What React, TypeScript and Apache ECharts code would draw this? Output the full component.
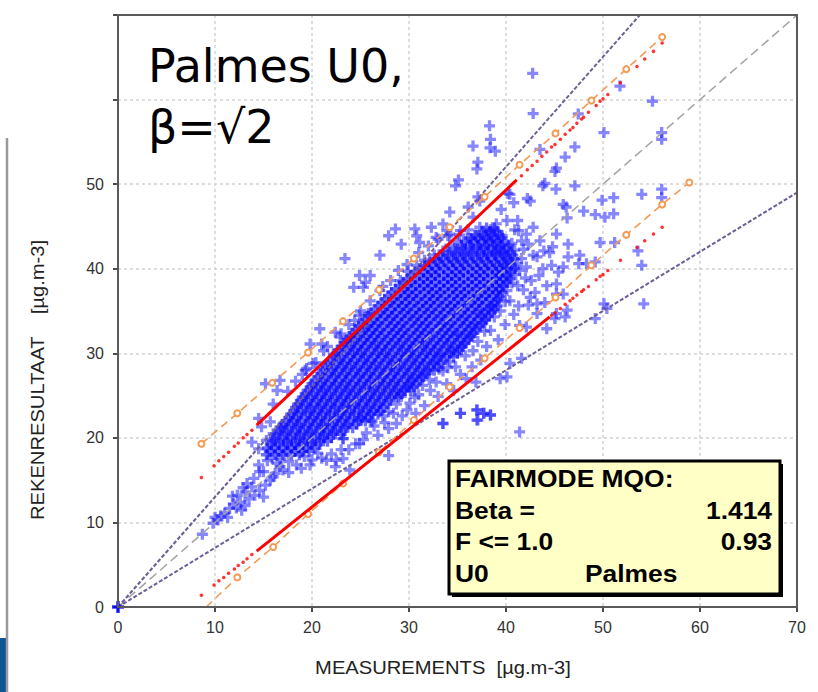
import React, { useEffect, useRef } from "react";
import * as echarts from "echarts";

// Axis ticks
const xTicks = [0, 10, 20, 30, 40, 50, 60, 70];
const yTickLabels = ["0", "10", "20", "30", "40", "50", "", ""];

// Reference lines (measurement vs. model)
const oneToOne = [[0, 0], [70, 70]];
const upperLimit = [[0, 0], [53.8, 70]];
const lowerLimit = [[0, 0], [70, 49]];

// Orange MQO bounds with markers
const orangeUpper = [
  [8.6, 19.3], [12.3, 22.9], [15.9, 26.5], [19.6, 30.1], [23.2, 33.8], [26.9, 37.5], [30.5, 41.2],
  [34.2, 44.9], [37.8, 48.5], [41.4, 52.3], [45.1, 56.0], [48.8, 59.9], [52.4, 63.6], [56.1, 67.4],
];
const orangeLower = [
  [9.1, 0], [12.3, 3.5], [16.0, 7.1], [19.6, 11.0], [23.2, 14.6], [26.9, 18.3], [30.5, 22.1],
  [34.2, 26.0], [37.8, 29.4], [41.4, 33.0], [45.1, 36.6], [48.8, 40.4], [52.4, 44.0], [56.1, 47.6], [58.9, 50.2],
];

// Red uncertainty points: dense stretch drawn as a segment, sparse ends as dots
const redUpperSegment = [[14.3, 21.5], [41.1, 50.5]];
const redUpperDots = [
  [8.6, 15.3], [9.9, 16.7], [10.4, 17.3], [10.9, 17.8], [11.4, 18.3], [12.0, 19.0], [12.4, 19.4],
  [12.9, 20.0], [13.3, 20.4], [13.8, 20.9], [41.6, 51.0], [42.2, 51.7], [42.7, 52.2], [43.2, 52.7],
  [43.7, 53.3], [44.2, 53.8], [44.7, 54.4], [45.05, 54.7], [45.6, 55.3], [46.1, 55.9], [46.6, 56.4],
  [46.9, 56.7], [47.3, 57.2], [47.8, 57.7], [48.0, 57.9], [48.5, 58.5], [49.3, 59.3], [49.7, 59.8],
  [50.0, 60.1], [50.5, 60.6], [51.8, 62.0], [53.5, 63.9], [54.3, 64.8], [55.2, 65.7], [56.1, 66.7],
];
const redLowerSegment = [[14.3, 6.6], [44.5, 34.3]];
const redLowerDots = [
  [8.6, 1.4], [9.9, 2.6], [10.4, 3.1], [10.9, 3.5], [11.4, 4.0], [12.0, 4.5], [12.4, 4.9],
  [12.9, 5.3], [13.3, 5.7], [13.8, 6.2], [44.7, 34.5], [45.05, 34.8], [45.6, 35.3], [46.1, 35.8],
  [46.6, 36.2], [46.9, 36.5], [47.3, 36.9], [47.8, 37.3], [48.0, 37.5], [48.5, 37.9], [49.3, 38.7],
  [49.7, 39.1], [50.0, 39.3], [50.5, 39.8], [51.8, 41.0], [53.5, 42.5], [54.3, 43.3], [55.2, 44.1], [56.1, 44.9],
];

// Blue station pairs: dense core, listed per row [model, measurements...]
const coreRowsA: [number, number[]][] = [
  [18.0, [15.3, 16.2, 17.0, 17.9, 18.7]],
  [18.8, [15.4, 16.2, 17.1, 17.9, 18.6, 19.5, 20.3]],
  [19.6, [15.9, 16.7, 17.5, 18.4, 19.2, 20.0, 20.9, 21.6]],
  [20.4, [16.3, 17.2, 18.0, 18.8, 19.7, 20.5, 21.3, 22.2, 23.0]],
  [21.2, [16.8, 17.6, 18.5, 19.3, 20.1, 21.0, 21.8, 22.6, 23.5, 24.2]],
  [22.0, [17.3, 18.1, 18.9, 19.8, 20.6, 21.4, 22.3, 23.1, 23.9, 24.8, 25.5]],
  [22.8, [17.8, 18.6, 19.5, 20.3, 21.1, 21.9, 22.8, 23.6, 24.4, 25.3, 26.1, 26.8]],
  [23.6, [18.3, 19.1, 19.9, 20.8, 21.6, 22.4, 23.3, 24.1, 24.9, 25.8, 26.6, 27.4]],
  [24.4, [18.8, 19.6, 20.5, 21.3, 22.1, 23.0, 23.8, 24.6, 25.5, 26.3, 27.1, 28.0]],
  [25.2, [19.3, 20.1, 21.0, 21.8, 22.6, 23.5, 24.3, 25.1, 26.0, 26.8, 27.6, 28.5, 29.2]],
  [26.0, [19.8, 20.6, 21.4, 22.3, 23.1, 23.9, 24.8, 25.6, 26.4, 27.3, 28.1, 28.9, 29.8, 30.5]],
  [26.8, [20.3, 21.1, 22.0, 22.8, 23.6, 24.5, 25.3, 26.1, 27.0, 27.8, 28.6, 29.5, 30.3, 31.1]],
  [27.6, [20.9, 21.7, 22.5, 23.4, 24.2, 25.0, 25.9, 26.7, 27.5, 28.4, 29.2, 30.0, 30.9, 31.7]],
  [28.4, [21.4, 22.2, 23.1, 23.9, 24.7, 25.6, 26.4, 27.2, 28.1, 28.9, 29.7, 30.6, 31.4, 32.2, 33.0]],
  [29.2, [21.9, 22.8, 23.6, 24.4, 25.3, 26.1, 26.9, 27.8, 28.6, 29.4, 30.3, 31.1, 31.9, 32.8, 33.6]],
  [30.0, [22.5, 23.3, 24.2, 25.0, 25.8, 26.7, 27.5, 28.3, 29.2, 30.0, 30.8, 31.7, 32.5, 33.3, 34.2, 35.0]],
  [30.8, [23.0, 23.9, 24.7, 25.5, 26.4, 27.2, 28.0, 28.9, 29.7, 30.5, 31.4, 32.2, 33.0, 33.9, 34.7, 35.5]],
  [31.6, [23.6, 24.4, 25.3, 26.1, 26.9, 27.8, 28.6, 29.4, 30.3, 31.1, 31.9, 32.8, 33.6, 34.4, 35.3, 36.1]],
  [32.4, [24.2, 25.0, 25.9, 26.7, 27.5, 28.4, 29.2, 30.0, 30.9, 31.7, 32.5, 33.4, 34.2, 35.0, 35.9, 36.7]],
  [33.2, [24.8, 25.7, 26.5, 27.3, 28.2, 29.0, 29.8, 30.7, 31.5, 32.3, 33.2, 34.0, 34.8, 35.7, 36.5, 37.3]],
  [34.0, [25.5, 26.3, 27.1, 28.0, 28.8, 29.6, 30.5, 31.3, 32.1, 33.0, 33.8, 34.6, 35.5, 36.3, 37.1, 37.9]],
  [34.8, [26.1, 27.0, 27.8, 28.6, 29.5, 30.3, 31.1, 32.0, 32.8, 33.6, 34.5, 35.3, 36.1, 37.0, 37.8, 38.5]],
  [35.6, [26.8, 27.6, 28.5, 29.3, 30.1, 31.0, 31.8, 32.6, 33.5, 34.3, 35.1, 36.0, 36.8, 37.6, 38.5, 39.1]],
  [36.4, [27.5, 28.3, 29.2, 30.0, 30.8, 31.7, 32.5, 33.3, 34.2, 35.0, 35.8, 36.7, 37.5, 38.3, 39.2]],
  [37.2, [28.2, 29.1, 29.9, 30.7, 31.6, 32.4, 33.2, 34.1, 34.9, 35.7, 36.6, 37.4, 38.2, 39.0, 39.6]],
  [38.0, [29.0, 29.8, 30.7, 31.5, 32.3, 33.2, 34.0, 34.8, 35.7, 36.5, 37.3, 38.2, 39.0, 39.7]],
  [38.8, [29.8, 30.6, 31.5, 32.3, 33.1, 34.0, 34.8, 35.6, 36.5, 37.3, 38.1, 39.0, 39.7, 40.4]],
  [39.6, [30.6, 31.5, 32.3, 33.1, 34.0, 34.8, 35.6, 36.5, 37.3, 38.1, 39.0, 39.6, 40.5]],
  [40.4, [31.6, 32.4, 33.2, 34.1, 34.9, 35.7, 36.6, 37.4, 38.2, 39.0, 39.8, 40.6]],
  [41.2, [32.7, 33.5, 34.4, 35.2, 36.0, 36.9, 37.7, 38.5, 39.3, 40.1, 40.9]],
  [42.0, [34.0, 34.8, 35.7, 36.5, 37.3, 38.1, 38.9, 39.7, 40.5]],
  [42.8, [35.4, 36.3, 37.1, 37.9, 38.7, 39.5, 40.3]],
  [43.6, [36.4, 37.2, 38.0, 38.8, 39.6]],
  [44.4, [37.5, 38.3, 39.1]],
];
const coreRowsB: [number, number[]][] = [
  [18.4, [15.6, 16.5, 17.3, 18.2, 19.0, 19.7]],
  [19.2, [15.8, 16.6, 17.5, 18.3, 19.1, 20.0, 20.8]],
  [20.0, [16.1, 17.0, 17.8, 18.7, 19.5, 20.3, 21.2, 22.0]],
  [20.8, [16.6, 17.4, 18.3, 19.1, 19.9, 20.8, 21.6, 22.4, 23.3]],
  [21.6, [17.0, 17.9, 18.7, 19.6, 20.4, 21.2, 22.1, 22.9, 23.7, 24.6]],
  [22.4, [17.6, 18.4, 19.3, 20.1, 20.9, 21.8, 22.6, 23.4, 24.3, 25.1, 25.9]],
  [23.2, [18.1, 18.9, 19.8, 20.6, 21.4, 22.3, 23.1, 23.9, 24.8, 25.6, 26.4, 27.1]],
  [24.0, [18.5, 19.4, 20.2, 21.0, 21.9, 22.7, 23.5, 24.4, 25.2, 26.0, 26.9, 27.7]],
  [24.8, [19.0, 19.9, 20.7, 21.5, 22.4, 23.2, 24.0, 24.9, 25.7, 26.5, 27.4, 28.2, 28.9]],
  [25.6, [19.5, 20.4, 21.2, 22.0, 22.9, 23.7, 24.5, 25.4, 26.2, 27.0, 27.9, 28.7, 29.5, 30.2]],
  [26.4, [20.0, 20.9, 21.7, 22.5, 23.4, 24.2, 25.0, 25.9, 26.7, 27.5, 28.4, 29.2, 30.0, 30.8]],
  [27.2, [20.6, 21.4, 22.3, 23.1, 23.9, 24.8, 25.6, 26.4, 27.3, 28.1, 28.9, 29.8, 30.6, 31.4]],
  [28.0, [21.1, 22.0, 22.8, 23.6, 24.5, 25.3, 26.1, 27.0, 27.8, 28.6, 29.5, 30.3, 31.1, 32.0, 32.6]],
  [28.8, [21.6, 22.5, 23.3, 24.1, 25.0, 25.8, 26.6, 27.5, 28.3, 29.1, 30.0, 30.8, 31.6, 32.5, 33.3]],
  [29.6, [22.2, 23.0, 23.9, 24.7, 25.5, 26.4, 27.2, 28.0, 28.9, 29.7, 30.5, 31.4, 32.2, 33.0, 33.9, 34.6]],
  [30.4, [22.7, 23.6, 24.4, 25.2, 26.1, 26.9, 27.7, 28.6, 29.4, 30.2, 31.1, 31.9, 32.7, 33.6, 34.4, 35.2]],
  [31.2, [23.3, 24.1, 25.0, 25.8, 26.6, 27.5, 28.3, 29.1, 30.0, 30.8, 31.6, 32.5, 33.3, 34.1, 35.0, 35.8]],
  [32.0, [23.9, 24.7, 25.6, 26.4, 27.2, 28.1, 28.9, 29.7, 30.6, 31.4, 32.2, 33.1, 33.9, 34.7, 35.6, 36.4]],
  [32.8, [24.5, 25.4, 26.2, 27.0, 27.9, 28.7, 29.5, 30.4, 31.2, 32.0, 32.9, 33.7, 34.5, 35.4, 36.2, 37.0]],
  [33.6, [25.2, 26.0, 26.8, 27.7, 28.5, 29.3, 30.2, 31.0, 31.8, 32.7, 33.5, 34.3, 35.2, 36.0, 36.8, 37.6]],
  [34.4, [25.8, 26.7, 27.5, 28.3, 29.2, 30.0, 30.8, 31.7, 32.5, 33.3, 34.2, 35.0, 35.8, 36.7, 37.5, 38.2]],
  [35.2, [26.5, 27.3, 28.2, 29.0, 29.8, 30.7, 31.5, 32.3, 33.2, 34.0, 34.8, 35.7, 36.5, 37.3, 38.2, 38.8]],
  [36.0, [27.2, 28.0, 28.9, 29.7, 30.5, 31.4, 32.2, 33.0, 33.9, 34.7, 35.5, 36.4, 37.2, 38.0, 38.9]],
  [36.8, [27.9, 28.7, 29.6, 30.4, 31.2, 32.1, 32.9, 33.7, 34.6, 35.4, 36.2, 37.1, 37.9, 38.7, 39.4]],
  [37.6, [28.6, 29.5, 30.3, 31.1, 32.0, 32.8, 33.6, 34.5, 35.3, 36.1, 37.0, 37.8, 38.6, 39.3]],
  [38.4, [29.4, 30.2, 31.1, 31.9, 32.7, 33.6, 34.4, 35.2, 36.1, 36.9, 37.7, 38.6, 39.4, 40.1]],
  [39.2, [30.2, 31.1, 31.9, 32.7, 33.6, 34.4, 35.2, 36.1, 36.9, 37.7, 38.6, 39.3, 40.1]],
  [40.0, [31.1, 32.0, 32.8, 33.6, 34.5, 35.3, 36.1, 37.0, 37.8, 38.6, 39.3, 40.1, 40.9]],
  [40.8, [32.1, 33.0, 33.8, 34.6, 35.5, 36.3, 37.1, 38.0, 38.8, 39.6, 40.4]],
  [41.6, [33.3, 34.1, 35.0, 35.8, 36.6, 37.5, 38.2, 39.0, 39.9, 40.7]],
  [42.4, [34.7, 35.5, 36.3, 37.1, 37.8, 38.6, 39.4, 40.2]],
  [43.2, [35.8, 36.6, 37.4, 38.2, 39.0, 39.8]],
  [44.0, [36.8, 37.7, 38.5, 39.3]],
  [44.8, [38.0, 38.8]],
];

// Looser crosses along the edge of the core
const edgePoints = [
  [23.8, 18.6], [25.3, 19.8], [26.8, 20.3], [27.5, 21.8], [28.4, 22.9], [30.1, 24.1], [29.2, 24.9],
  [31.0, 25.1], [30.0, 26.0], [32.1, 26.9], [31.3, 27.3], [33.1, 28.1], [34.0, 28.3], [33.2, 29.8],
  [34.6, 30.2], [35.7, 31.2], [36.2, 31.9], [35.0, 32.2], [36.8, 33.0], [37.9, 33.9], [38.3, 35.2],
  [37.4, 34.6], [39.1, 36.3], [39.8, 37.9], [40.3, 39.1], [39.9, 40.5], [41.2, 40.6], [41.8, 42.3],
  [40.6, 43.0], [39.6, 43.9], [38.4, 44.6], [37.3, 44.9], [36.1, 44.6], [35.2, 44.0], [40.9, 44.6],
  [42.3, 42.9], [16.0, 24.0], [17.5, 25.5], [18.3, 26.7], [19.0, 27.5], [20.4, 28.9], [21.6, 30.8],
  [23.0, 32.3], [23.8, 33.4], [25.0, 35.0], [26.0, 36.2], [27.3, 37.9], [28.1, 38.6], [29.8, 40.5],
  [31.0, 41.9], [32.0, 42.7], [33.0, 43.5], [34.0, 43.9], [15.0, 16.0], [16.0, 15.4], [17.6, 15.9],
  [18.9, 16.4], [19.8, 16.8], [21.0, 17.6], [22.0, 18.1], [23.0, 18.6], [15.4, 17.3], [16.8, 17.5],
];

// Blue points around the core edge
const bandPoints = [
  [24.5, 19.3], [23.2, 19.9], [25.6, 20.6], [26.4, 21.4], [27.9, 21.1], [26.2, 21.9], [28.7, 21.7],
  [27.9, 23.1], [29.8, 23.3], [28.7, 24.0], [29.3, 22.6], [27.3, 22.6], [30.6, 24.8], [29.6, 25.6],
  [31.4, 26.2], [30.4, 27.0], [31.9, 27.6], [32.8, 26.6], [33.5, 27.9], [32.6, 28.8], [34.2, 29.0],
  [33.9, 26.4], [35.3, 27.5], [34.8, 28.4], [35.8, 29.7], [36.6, 30.3], [35.4, 30.8], [37.1, 31.4],
  [36.4, 32.2], [37.8, 32.6], [38.4, 32.7], [37.5, 33.6], [38.8, 34.3], [39.4, 35.0], [38.6, 35.6],
  [39.9, 36.1], [40.4, 36.2], [40.1, 37.4], [40.6, 38.3], [41.0, 39.3], [40.5, 40.1], [41.4, 39.8],
  [40.2, 41.0], [39.8, 41.9], [39.2, 42.6], [38.6, 43.3], [37.8, 43.5], [36.9, 43.9], [36.0, 43.6],
  [35.0, 43.2], [34.2, 42.8], [33.5, 42.1], [32.6, 41.6], [31.6, 41.0], [30.8, 40.4], [29.9, 39.7],
  [40.9, 42.2], [41.6, 41.2], [42.1, 40.2], [42.6, 38.6], [41.8, 37.5], [41.3, 35.6], [40.8, 34.6],
  [39.9, 33.4], [39.2, 31.6], [38.0, 30.8], [37.4, 29.2], [36.5, 28.4], [35.9, 27.0], [36.9, 26.6],
  [34.6, 25.6], [33.0, 24.9], [32.2, 25.6], [31.6, 23.8], [30.7, 22.9], [33.5, 21.7], [35.3, 22.9],
  [37.0, 23.3], [38.4, 22.7], [37.0, 22.1], [37.7, 22.9], [42.8, 41.6], [43.4, 39.2], [42.0, 38.9],
  [43.0, 37.2], [44.0, 36.0], [42.5, 36.6], [41.2, 38.0], [44.8, 42.6], [43.9, 42.1],
];

// Low-concentration tail
const tailPoints = [
  [8.7, 8.6], [9.8, 9.9], [10.3, 10.3], [11.0, 11.1], [11.5, 11.65], [11.9, 12.2], [12.6, 12.4],
  [13.1, 12.0], [12.75, 11.45], [10.6, 10.8], [10.0, 10.6], [11.3, 10.6], [12.2, 11.7], [13.3, 14.6],
  [13.8, 14.2], [14.6, 13.8], [14.1, 13.2], [15.0, 13.0], [13.1, 13.6], [14.5, 16.8], [14.6, 16.0],
  [16.2, 15.8], [16.4, 17.0], [16.7, 16.6], [15.7, 15.0], [13.8, 19.5], [14.5, 18.7], [15.3, 19.7],
  [16.0, 20.5], [16.7, 21.3], [14.5, 22.3], [14.8, 21.3], [15.7, 21.9], [15.2, 26.4], [16.4, 25.6],
  [16.7, 26.8], [19.45, 28.2], [20.1, 28.8], [21.5, 17.35], [22.5, 17.35], [23.2, 17.55], [22.4, 16.6],
  [23.9, 16.2], [25.1, 22.1], [26.1, 22.1], [12.3, 13.2], [13.5, 12.8], [14.0, 15.2], [15.2, 14.4],
  [15.9, 17.6], [17.0, 16.2], [17.6, 17.2], [18.4, 16.8], [19.2, 17.8], [20.0, 17.4], [20.6, 18.2],
  [12.9, 14.1], [11.8, 13.1],
];

// Scattered pairs above the core
const upperOutliers = [
  [23.4, 41.2], [27.0, 41.6], [28.6, 44.7], [27.9, 43.9], [29.2, 42.9], [30.6, 44.7], [30.8, 43.9],
  [31.1, 43.1], [32.3, 44.9], [33.5, 45.3], [33.9, 44.5], [32.8, 43.7], [34.2, 46.7], [36.1, 47.3],
  [36.6, 46.1], [37.1, 48.5], [24.9, 39.2], [26.0, 39.2], [25.5, 38.4], [24.3, 37.8], [25.3, 37.8],
  [27.0, 37.4], [20.8, 32.9], [22.4, 32.5], [22.9, 31.9], [19.8, 31.1], [19.3, 28.0], [21.0, 31.1],
  [21.2, 30.3], [22.2, 29.9], [24.9, 34.5], [24.4, 33.9], [25.8, 34.7], [25.3, 33.1], [28.9, 39.8],
  [29.1, 38.6], [42.75, 63.1], [42.8, 58.35], [38.3, 56.9], [36.6, 54.5], [38.4, 55.3], [38.35, 54.3],
  [38.9, 53.9], [37.1, 52.6], [37.0, 51.8], [35.1, 50.5], [34.8, 49.8], [55.1, 59.8], [51.75, 61.6],
  [56.05, 56.1], [56.05, 55.3], [50.1, 56.1], [47.1, 54.4], [46.1, 53.2], [45.2, 51.9], [45.05, 51.5],
  [44.0, 50.1], [45.15, 49.4], [47.1, 49.8], [47.45, 58.3], [43.5, 54.1], [42.5, 48.0], [42.2, 48.3],
  [46.2, 47.3], [45.9, 47.6], [46.3, 46.0], [48.0, 46.8], [49.2, 46.4], [50.2, 46.1], [51.1, 48.4],
  [51.1, 46.5], [54.0, 48.8], [56.05, 49.4], [56.05, 48.4], [49.9, 48.1], [49.7, 43.1], [51.2, 43.1],
  [43.8, 49.8], [40.2, 48.9], [39.5, 47.0], [40.8, 47.8], [39.0, 45.3], [38.7, 44.5], [40.1, 45.7],
  [41.2, 45.7], [41.3, 44.5], [42.1, 44.1], [41.6, 43.3], [39.4, 41.9], [38.9, 41.8], [35.3, 44.5],
  [34.2, 44.1], [37.3, 48.0], [40.4, 48.8], [42.8, 44.9], [43.5, 43.3], [45.2, 44.1], [46.4, 42.9],
  [44.5, 41.9], [43.2, 41.4],
];

// Scattered pairs below the core
const lowerOutliers = [
  [54.0, 40.4], [54.2, 35.85], [50.1, 35.85], [50.4, 35.3], [49.2, 34.1], [46.1, 34.3], [46.3, 35.1],
  [45.05, 34.1], [45.2, 34.7], [44.2, 32.9], [35.3, 22.9], [37.0, 23.3], [37.1, 22.1], [38.4, 22.7],
  [37.7, 22.9], [41.4, 20.7], [33.5, 21.7], [41.6, 29.4], [40.4, 28.8], [40.1, 27.2], [39.4, 27.0],
  [45.2, 38.2], [44.2, 38.0], [45.2, 37.0], [45.9, 37.0], [42.3, 35.7], [43.2, 35.85], [43.2, 34.7],
  [42.1, 33.1], [41.4, 33.3], [43.8, 40.0], [44.7, 40.4], [45.4, 39.6], [45.9, 40.2], [46.4, 41.4],
  [47.6, 41.6], [47.5, 40.6], [48.3, 40.6], [49.2, 40.8], [53.6, 42.1], [23.2, 19.9], [24.9, 19.3],
  [27.9, 17.9],
];

const originPoint = [[0, 0]];

const corePoints: number[][] = [];
[...coreRowsA, ...coreRowsB].forEach(([y, xs]) => xs.forEach((x) => corePoints.push([x, y])));
const scatteredPoints = [...edgePoints, ...bandPoints, ...tailPoints, ...upperOutliers, ...lowerOutliers];

const crossPath = "path://M3.5,0H6.5V3.5H10V6.5H6.5V10H3.5V6.5H0V3.5H3.5Z";

const AXIS_FONT = '"Liberation Sans", Arial, sans-serif';

const option: echarts.EChartsCoreOption = {
  animation: false,
  backgroundColor: "#ffffff",
  grid: { left: 118, top: 15, width: 679, height: 592 },
  xAxis: {
    type: "value",
    min: xTicks[0],
    max: xTicks[xTicks.length - 1],
    interval: 10,
    axisLine: { show: true, lineStyle: { color: "#4a4a4a", width: 2 } },
    axisTick: { show: true, length: 5, lineStyle: { color: "#4a4a4a", width: 2 } },
    axisLabel: { color: "#333", fontSize: 16, fontFamily: AXIS_FONT, margin: 12 },
    splitLine: { show: true, lineStyle: { color: "#d2d2d2", width: 1.5, type: [3, 3] } },
  },
  yAxis: {
    type: "value",
    min: 0,
    max: 70,
    interval: 10,
    axisLine: { show: true, lineStyle: { color: "#4a4a4a", width: 2 } },
    axisTick: { show: true, length: 5, lineStyle: { color: "#4a4a4a", width: 2 } },
    axisLabel: {
      color: "#333",
      fontSize: 16,
      fontFamily: AXIS_FONT,
      margin: 14,
      formatter: (v: number) => yTickLabels[Math.round(v / 10)] ?? "",
    },
    splitLine: { show: true, lineStyle: { color: "#d2d2d2", width: 1.5, type: [3, 3] } },
  },
  series: [
    {
      type: "scatter",
      data: corePoints,
      symbol: crossPath,
      symbolSize: 11,
      itemStyle: { color: "rgba(0,0,255,0.72)" },
      z: 2,
      silent: true,
    },
    {
      type: "scatter",
      data: scatteredPoints,
      symbol: crossPath,
      symbolSize: 11,
      itemStyle: { color: "rgba(20,20,255,0.64)" },
      z: 2,
      silent: true,
    },
    {
      type: "line",
      data: oneToOne,
      showSymbol: false,
      lineStyle: { color: "#a3a3a3", width: 1.5, type: [9, 5] },
      z: 3,
    },
    {
      type: "line",
      data: upperLimit,
      showSymbol: false,
      lineStyle: { color: "#6e5e96", width: 2, type: [4, 2] },
      z: 3,
    },
    {
      type: "line",
      data: lowerLimit,
      showSymbol: false,
      lineStyle: { color: "#6e5e96", width: 2, type: [4, 2] },
      z: 3,
    },
    {
      type: "line",
      data: orangeUpper,
      symbol: "emptyCircle",
      symbolSize: 6,
      itemStyle: { color: "#f39a55", borderWidth: 1.2 },
      lineStyle: { color: "#f39a55", width: 1.6, type: [8, 5] },
      z: 4,
    },
    {
      type: "line",
      data: orangeLower.map((p, i) => (i === 0 ? { value: p, symbol: "none" } : p)),
      symbol: "emptyCircle",
      symbolSize: 6,
      itemStyle: { color: "#f39a55", borderWidth: 1.2 },
      lineStyle: { color: "#f39a55", width: 1.6, type: [8, 5] },
      z: 4,
    },
    {
      type: "line",
      data: redUpperSegment,
      showSymbol: false,
      lineStyle: { color: "#ff0000", width: 3 },
      z: 5,
    },
    {
      type: "line",
      data: redLowerSegment,
      showSymbol: false,
      lineStyle: { color: "#ff0000", width: 3 },
      z: 5,
    },
    {
      type: "scatter",
      data: [...redUpperDots, ...redLowerDots],
      symbol: "circle",
      symbolSize: 3.5,
      itemStyle: { color: "#ff0000" },
      z: 5,
    },
    {
      type: "scatter",
      data: originPoint,
      symbol: crossPath,
      symbolSize: 12,
      itemStyle: { color: "#0000ff" },
      z: 6,
    },
  ],
  graphic: [
    { type: "rect", shape: { x: 0, y: 638, width: 6, height: 54 }, style: { fill: "#0d5593" } },
    { type: "line", shape: { x1: 7, y1: 138, x2: 7, y2: 692 }, style: { stroke: "#9a9a9a", lineWidth: 2.5 } },
    // plot frame
    {
      type: "rect",
      shape: { x: 118, y: 15, width: 679, height: 592 },
      style: { fill: "none", stroke: "#5a5a5a", lineWidth: 2 },
      z: 8,
    },
    {
      type: "text",
      x: 148,
      y: 66,
      style: { text: "Palmes U0,", font: '46px "DejaVu Sans"', fill: "#000", textAlign: "left", textVerticalAlign: "middle" },
    },
    {
      type: "text",
      x: 148,
      y: 127,
      style: { text: "β=√2", font: '46px "DejaVu Sans"', fill: "#000", textAlign: "left", textVerticalAlign: "middle" },
    },
    // MQO summary box
    { type: "rect", shape: { x: 452, y: 464, width: 331, height: 133 }, style: { fill: "#000" }, z: 10 },
    {
      type: "rect",
      shape: { x: 449, y: 461, width: 331, height: 133 },
      style: { fill: "#ffffc6", stroke: "#000", lineWidth: 3 },
      z: 11,
    },
    ...[
      { t: "FAIRMODE MQO:", x: 455, y: 478, a: "left" },
      { t: "Beta =", x: 455, y: 510, a: "left" },
      { t: "1.414", x: 772, y: 510, a: "right" },
      { t: "F <= 1.0", x: 455, y: 541, a: "left" },
      { t: "0.93", x: 772, y: 541, a: "right" },
      { t: "U0", x: 455, y: 573, a: "left" },
      { t: "Palmes", x: 585, y: 573, a: "left" },
    ].map((d) => ({
      type: "text",
      x: d.x,
      y: d.y,
      scaleX: 1.1,
      z: 12,
      style: {
        text: d.t,
        font: 'bold 24px "Liberation Sans", Arial, sans-serif',
        fill: "#000",
        textAlign: d.a,
        textVerticalAlign: "middle",
      },
    })),
    {
      type: "text",
      x: 443,
      y: 668,
      scaleX: 1.12,
      style: {
        text: "MEASUREMENTS  [µg.m-3]",
        font: '18px "Liberation Sans", Arial, sans-serif',
        fill: "#222",
        textAlign: "center",
        textVerticalAlign: "middle",
      },
    },
    {
      type: "text",
      x: 38,
      y: 380,
      rotation: Math.PI / 2,
      scaleX: 1.12,
      style: {
        text: "REKENRESULTAAT    [µg.m-3]",
        font: '18px "Liberation Sans", Arial, sans-serif',
        fill: "#222",
        textAlign: "center",
        textVerticalAlign: "middle",
      },
    },
  ],
};

export default function App() {
  const ref = useRef<HTMLDivElement>(null);
  useEffect(() => {
    if (!ref.current) return;
    const chart = echarts.init(ref.current, null, { renderer: "svg" });
    chart.setOption(option);
    return () => chart.dispose();
  }, []);
  return <div ref={ref} style={{ position: "absolute", left: 0, top: 0, width: 818, height: 692 }} />;
}
